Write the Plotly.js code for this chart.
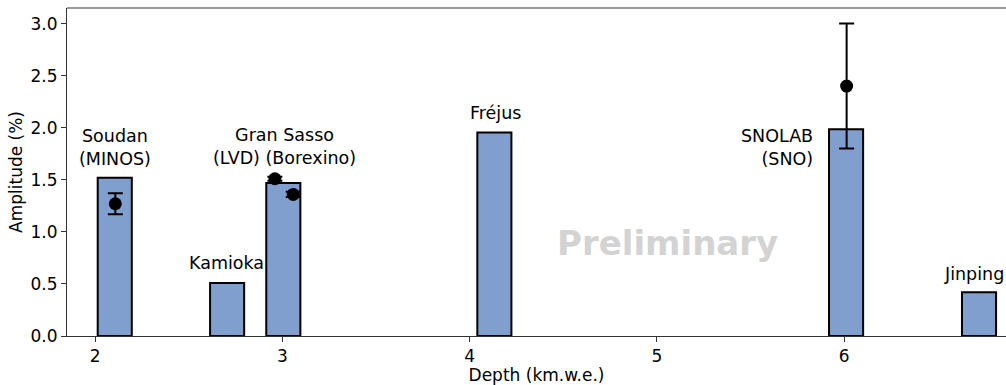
<!DOCTYPE html>
<html>
<head>
<meta charset="utf-8">
<script src="https://cdn.plot.ly/plotly-3.0.1.min.js"></script>
<style>html,body{margin:0;padding:0;background:#fff;}#chart{width:1006px;height:385px;}</style>
</head>
<body>
<div id="chart"></div>
<script>
// Bars: site depth (km.w.e.) and amplitude (%)
const siteNames = ["Soudan", "Kamioka", "Gran Sasso", "Fréjus", "SNOLAB", "Jinping"];
const siteDepths = [2.105, 2.705, 3.005, 4.132, 6.01, 6.72];
const siteAmplitudes = [1.52, 0.51, 1.47, 1.955, 1.985, 0.42];

// Measured points with error bars
const measNames = ["MINOS", "LVD", "Borexino", "SNO"];
const measDepths = [2.108, 2.96, 3.058, 6.013];
const measAmplitudes = [1.27, 1.51, 1.36, 2.40];
const measErrors = [0.10, 0.02, 0.025, 0.60];

// Text labels
const labelTexts = ["Soudan<br>(MINOS)", "Kamioka", "Gran Sasso<br>(LVD) (Borexino)", "Fréjus", "SNOLAB<br>(SNO)", "Jinping"];
const labelX = [2.106, 2.702, 3.009, 4.136, 5.844, 6.862];
const labelY = [1.81, 0.70, 1.82, 2.145, 1.815, 0.594];
const labelAnchor = ["center", "center", "center", "center", "right", "right"];

const font = "DejaVu Sans, sans-serif";

const traces = [
  {
    type: "bar",
    x: siteDepths,
    y: siteAmplitudes,
    width: 0.182,
    marker: {color: "#809fcf", line: {color: "#000000", width: 2}},
    hoverinfo: "x+y",
    showlegend: false
  },
  {
    type: "scatter",
    mode: "markers",
    x: measDepths,
    y: measAmplitudes,
    marker: {color: "#000000", size: 13},
    error_y: {type: "data", array: measErrors, visible: true, color: "#000000", thickness: 2, width: 7.5},
    showlegend: false
  }
];

const annotations = labelTexts.map((t, i) => ({
  x: labelX[i], y: labelY[i], xref: "x", yref: "y",
  text: t, showarrow: false,
  xanchor: labelAnchor[i],
  yanchor: "middle",
  align: labelAnchor[i],
  font: {family: font, size: 17.5, color: "#000000"}
}));
annotations.push({
  x: 5.054, y: 0.894, xref: "x", yref: "y",
  text: "<b>Preliminary</b>", showarrow: false,
  xanchor: "center", yanchor: "middle",
  font: {family: font, size: 34, color: "#d3d3d3"}
});

const layout = {
  width: 1006, height: 385,
  margin: {l: 67, r: 0, t: 8, b: 49},
  paper_bgcolor: "#ffffff", plot_bgcolor: "#ffffff",
  font: {family: font, size: 17, color: "#000000"},
  bargap: 0,
  xaxis: {
    range: [1.85, 6.864],
    tickvals: [2, 3, 4, 5, 6],
    ticktext: ["2", "3", "4", "5", "6"],
    ticks: "outside", ticklen: 5, tickwidth: 1, tickcolor: "#333333",
    showgrid: false, zeroline: false,
    showline: true, linecolor: "#333333", linewidth: 1,
    mirror: false,
    tickfont: {family: font, size: 17, color: "#000000"},
    title: {text: "Depth (km.w.e.)", font: {family: font, size: 17, color: "#000000"}, standoff: 3}
  },
  yaxis: {
    range: [0, 3.15],
    tickvals: [0, 0.5, 1.0, 1.5, 2.0, 2.5, 3.0],
    ticktext: ["0.0", "0.5", "1.0", "1.5", "2.0", "2.5", "3.0"],
    ticks: "outside", ticklen: 5, tickwidth: 1, tickcolor: "#333333",
    showgrid: false, zeroline: false,
    showline: true, linecolor: "#333333", linewidth: 1,
    tickfont: {family: font, size: 17, color: "#000000"},
    title: {text: "Amplitude (%)", font: {family: font, size: 17, color: "#000000"}, standoff: 3}
  },
  shapes: [
    {type: "line", xref: "paper", yref: "paper", x0: 0, x1: 1, y0: 1, y1: 1, line: {color: "#333333", width: 1}}
  ],
  annotations: annotations
};

Plotly.newPlot("chart", traces, layout, {displayModeBar: false, staticPlot: true});
</script>
</body>
</html>
